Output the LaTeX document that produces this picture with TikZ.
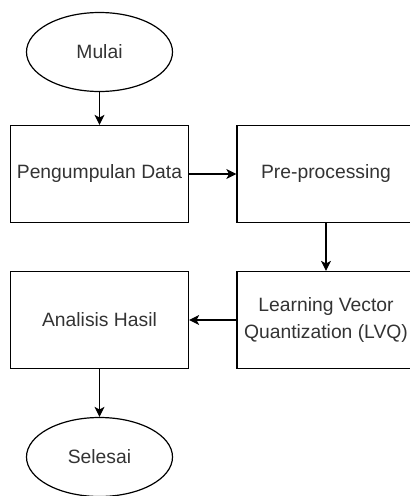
\documentclass[tikz,border=0pt]{standalone}
\usepackage{xcolor}
\usepackage{fontspec}
\setmainfont{Liberation Sans}
\usepackage{tikz}
\usetikzlibrary{shapes.geometric, arrows.meta}

\begin{document}
\begin{tikzpicture}[x=1pt,y=-1pt,
  every node/.style={font=\fontsize{19.3}{26.5}\selectfont, text=black!80},
  term/.style={draw, ellipse, line width=1.2pt, minimum width=146pt, minimum height=79pt, inner sep=0pt},
  box/.style={draw, rectangle, line width=1.2pt, minimum width=178pt, minimum height=97pt, align=center, inner sep=0pt},
  flow/.style={line width=1.2pt, -{Stealth[length=10pt, width=10pt, inset=2.5pt]}}]
\useasboundingbox (0,0) rectangle (410,496);
%Start dan selesai
\node[term] (mulai) at (99.5,52) {Mulai};
\node[term] (selesai) at (99.5,457) {Selesai};
%Proses
\node[box] (data) at (99.5,174) {Pengumpulan Data};
\node[box] (prep) at (326,174) {Pre-processing};
\node[box] (lvq) at (326,320) {Learning Vector\\Quantization (LVQ)};
\node[box] (hasil) at (99.5,320) {Analisis Hasil};
%Panah
\draw[flow] (mulai) -- (data);
\draw[flow] (data) -- (prep);
\draw[flow] (prep) -- (lvq);
\draw[flow] (lvq) -- (hasil);
\draw[flow] (hasil) -- (selesai);
\end{tikzpicture}
\end{document}
